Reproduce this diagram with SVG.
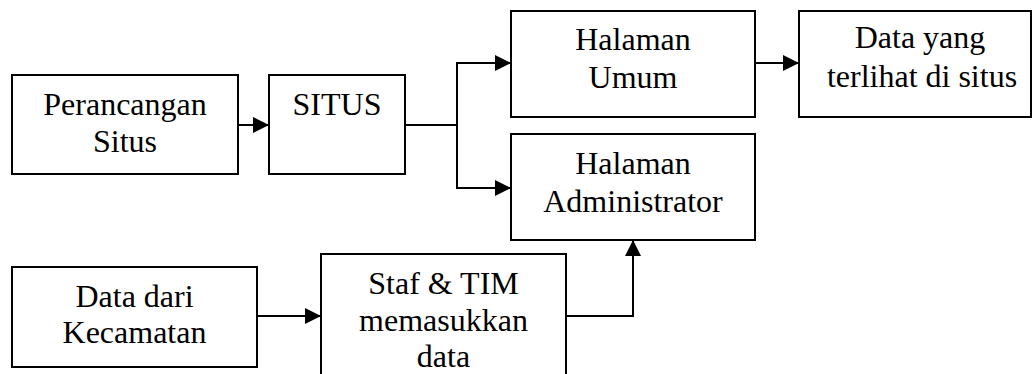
<svg xmlns="http://www.w3.org/2000/svg" width="1033" height="374" viewBox="0 0 1033 374">
<style>
.box{fill:#fff;stroke:#000;stroke-width:2}
.con{fill:none;stroke:#000;stroke-width:2}
text{font-family:'Liberation Serif','Times New Roman','DejaVu Serif',serif;font-size:32px;fill:#000;text-anchor:middle}
</style>
<defs>
<marker id="ah" markerUnits="userSpaceOnUse" markerWidth="16" markerHeight="16" refX="16" refY="8" orient="auto">
<path d="M0,0 L16,8 L0,16 z" fill="#000"/>
</marker>
</defs>
<rect width="1033" height="374" fill="#fff"/>
<g id="perancangan">
<rect class="box" x="12" y="75" width="226" height="99"/>
<text x="125" y="115">Perancangan</text>
<text x="125" y="152">Situs</text>
</g>
<g id="situs">
<rect class="box" x="269" y="75" width="136" height="99"/>
<text x="337" y="115">SITUS</text>
</g>
<g id="umum">
<rect class="box" x="511" y="11" width="244" height="106"/>
<text x="633" y="50">Halaman</text>
<text x="633" y="88">Umum</text>
</g>
<g id="admin">
<rect class="box" x="511" y="134" width="244" height="106"/>
<text x="633" y="174">Halaman</text>
<text x="633" y="212">Administrator</text>
</g>
<g id="datayang">
<rect class="box" x="799" y="11" width="232" height="106"/>
<text x="920" y="48">Data yang</text>
<text x="922" y="87">terlihat di situs</text>
</g>
<g id="datadari">
<rect class="box" x="12" y="267" width="245" height="100"/>
<text x="134.5" y="307">Data dari</text>
<text x="134.5" y="343">Kecamatan</text>
</g>
<g id="staf">
<rect class="box" x="321" y="254" width="245" height="130"/>
<text x="443.5" y="294">Staf &amp; TIM</text>
<text x="443.5" y="331">memasukkan</text>
<text x="443.5" y="367">data</text>
</g>
<g id="connectors">
<line class="con" x1="238" y1="125" x2="269" y2="125" marker-end="url(#ah)"/>
<polyline class="con" points="405,125 457,125"/>
<polyline class="con" points="457,125 457,63 511,63" marker-end="url(#ah)"/>
<polyline class="con" points="457,125 457,188 511,188" marker-end="url(#ah)"/>
<line class="con" x1="755" y1="63" x2="799" y2="63" marker-end="url(#ah)"/>
<line class="con" x1="257" y1="316" x2="321" y2="316" marker-end="url(#ah)"/>
<polyline class="con" points="566,316 633,316 633,240" marker-end="url(#ah)"/>
</g>
</svg>
